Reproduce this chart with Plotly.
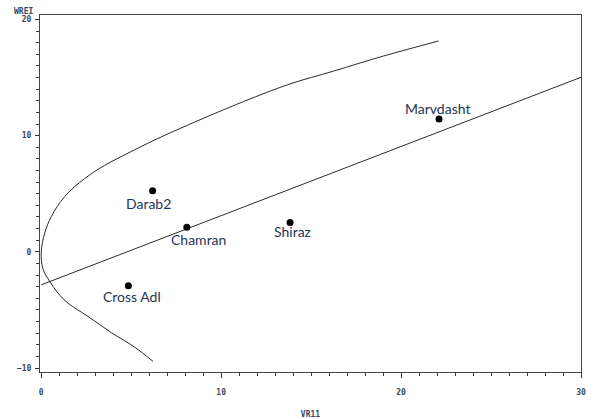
import plotly.graph_objects as go

# Genotype points (Vr, Wr)
names = ["Darab2", "Chamran", "Shiraz", "Cross Adl", "Marvdasht"]
vr = [6.19, 8.09, 13.83, 4.84, 22.11]
wr = [5.25, 2.12, 2.52, -2.92, 11.44]

# Regression line endpoints
line_x = [0.0, 30.0]
line_y = [-2.84, 15.02]

# Limiting parabola, lower end -> vertex -> upper end
curve_x = [6.21, 5.19, 3.89, 2.60, 1.48, 0.93, 0.47, 0.09, 0.0, 0.19, 0.56, 1.30,
           2.41, 3.53, 4.82, 6.31, 8.16, 11.24, 13.83, 16.24, 19.02, 22.08]
curve_y = [-9.43, -8.20, -6.95, -5.56, -4.41, -3.55, -2.55, -1.45, 0.0, 1.61, 3.04, 4.76,
           6.30, 7.45, 8.49, 9.63, 10.92, 12.93, 14.45, 15.55, 16.85, 18.14]

# label offsets in pixels (style)
label_dx = [-4, 12, 2, 4, -2]
label_dy = [-13, -12, -9, -11, 10]

fig = go.Figure()
fig.add_trace(go.Scatter(x=curve_x, y=curve_y, mode="lines",
                         line=dict(color="#2a2a2a", width=1, shape="spline", smoothing=1.0),
                         hoverinfo="skip"))
fig.add_trace(go.Scatter(x=line_x, y=line_y, mode="lines",
                         line=dict(color="#2a2a2a", width=1), hoverinfo="skip"))
fig.add_trace(go.Scatter(x=vr, y=wr, mode="markers",
                         marker=dict(color="black", size=7)))

for n, x, y, dx, dy in zip(names, vr, wr, label_dx, label_dy):
    fig.add_annotation(x=x, y=y, text=n, showarrow=False, xshift=dx, yshift=dy,
                       font=dict(family="Lato", size=14, color="#1f3556"))

tick_font = dict(family="DejaVu Sans Mono", size=8, color="#3a4660", weight="bold")

fig.update_xaxes(range=[-0.07, 30], tickvals=[0, 10, 20, 30], ticks="outside", ticklen=5,
                 tickcolor="#333", tickwidth=1, automargin=False,
                 minor=dict(dtick=1, ticks="outside", ticklen=3, tickcolor="#333", tickwidth=1),
                 showgrid=False, zeroline=False, showline=True, linecolor="#444", linewidth=1,
                 mirror=True, tickfont=tick_font, ticklabelstandoff=7,
                 title=dict(text="VR11", font=tick_font, standoff=16))
fig.update_yaxes(range=[-10.34, 20.38], tickvals=[-10, 0, 10, 20], ticks="outside", ticklen=4,
                 tickcolor="#333", tickwidth=1, automargin=False,
                 minor=dict(dtick=1, ticks="outside", ticklen=3, tickcolor="#333", tickwidth=1),
                 showgrid=False, zeroline=False, showline=True, linecolor="#444", linewidth=1,
                 mirror=True, tickfont=tick_font, ticklabelstandoff=2)

fig.add_annotation(x=-0.0305, y=1.011, xref="paper", yref="paper", text="WREI",
                   showarrow=False, xanchor="center", yanchor="middle", font=tick_font)

fig.update_layout(width=593, height=419, margin=dict(l=40, r=12, t=15, b=47),
                  plot_bgcolor="white", paper_bgcolor="white", showlegend=False,
                  hovermode=False)

fig.write_html("out.html", config={"displayModeBar": False},
               post_script="document.body.style.margin='0px';")
